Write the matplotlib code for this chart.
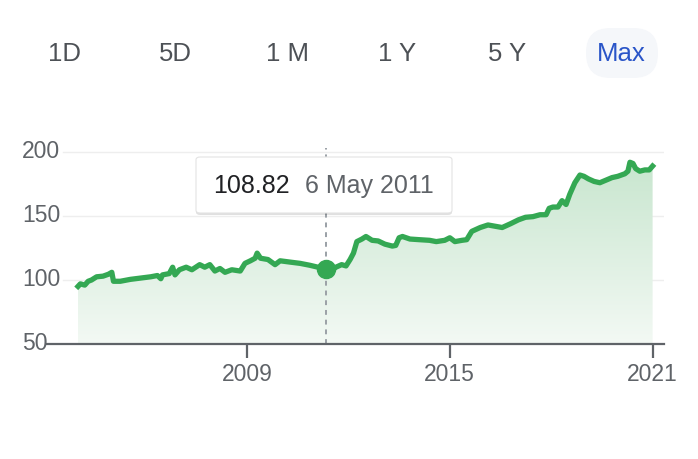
import numpy as np
import matplotlib
matplotlib.use("Agg")
import matplotlib.pyplot as plt
from matplotlib.patches import FancyBboxPatch
from matplotlib.colors import LinearSegmentedColormap
import matplotlib.transforms as mtransforms

plt.rcParams['font.family'] = ['Liberation Sans', 'DejaVu Sans']

# ---- data (decimal years, index value) ----
years = [2004.0, 2004.07, 2004.2, 2004.3, 2004.4, 2004.55, 2004.74, 2004.9, 2005.0, 2005.05,
         2005.25, 2005.55, 2005.85, 2006.15, 2006.35, 2006.45, 2006.5, 2006.7, 2006.8, 2006.87,
         2007.0, 2007.2, 2007.37, 2007.6, 2007.75, 2007.9, 2008.05, 2008.2, 2008.35, 2008.55,
         2008.8, 2008.94, 2009.1, 2009.24, 2009.3, 2009.4, 2009.62, 2009.83, 2009.98, 2010.27,
         2010.57, 2010.86, 2011.1, 2011.34, 2011.46, 2011.63, 2011.8, 2011.93, 2012.05, 2012.15,
         2012.25, 2012.4, 2012.52, 2012.7, 2012.88, 2013.08, 2013.3, 2013.4, 2013.5, 2013.6,
         2013.82, 2014.1, 2014.4, 2014.6, 2014.85, 2015.0, 2015.15, 2015.36, 2015.5, 2015.65,
         2015.9, 2016.13, 2016.34, 2016.55, 2016.8, 2017.03, 2017.24, 2017.46, 2017.67, 2017.85,
         2017.94, 2018.05, 2018.2, 2018.32, 2018.44, 2018.55, 2018.7, 2018.85, 2018.97, 2019.1,
         2019.27, 2019.44, 2019.62, 2019.8, 2019.97, 2020.18, 2020.27, 2020.33, 2020.42, 2020.5,
         2020.62, 2020.77, 2020.9, 2021.0]
values = [95, 97, 96, 99, 100, 102.5, 103, 104.5, 106, 99,
          99, 100.5, 101.5, 102.5, 103.5, 101, 104, 105, 110, 104,
          108, 110, 108, 112, 110, 112, 107, 109, 106, 108,
          107, 113, 115, 117, 121, 117, 116, 112, 115, 114,
          113, 111.5, 110, 108.82, 106.5, 110, 112, 111, 116, 121,
          130, 132, 134, 131, 130.5, 128, 126.5, 127, 133, 134,
          132, 131.5, 131, 130, 131, 133, 130, 131, 131.5, 138,
          141, 143, 142, 141, 144, 147, 149, 149.5, 151, 151,
          156, 157, 157, 162, 159, 167, 176, 182, 181, 179,
          177, 176, 178, 180, 181, 183, 185, 192, 191, 187,
          185, 186, 186, 189]

yticks = [50, 100, 150, 200]
xticks = [2009, 2015, 2021]
ranges = ["1D", "5D", "1 M", "1 Y", "5 Y", "Max"]
range_x = [64, 175, 287, 397, 507, 621]

hl_year, hl_value, hl_label = 2011.34, 108.82, "6 May 2011"

GREEN = '#34a853'
GRAY = '#5f6368'
W, H = 698, 459

fig = plt.figure(figsize=(W / 100, H / 100), dpi=100)
fig.patch.set_facecolor('white')

def fx(px):
    return px / W

def fy(py):
    return 1 - py / H

# axes: left px 47, right px 664; bottom py 344 (value 50), top py 130
ax = fig.add_axes([fx(47), fy(344), fx(664) - fx(47), fy(130) - fy(344)])
ax.set_facecolor('none')
pxyr = 33.8
ax.set_xlim(2009 - 200 / pxyr, 2009 + 417 / pxyr)
ax.set_ylim(50, 50 + (344 - 130) / 1.28)

for s in ax.spines.values():
    s.set_visible(False)
ax.spines['bottom'].set_visible(True)
ax.spines['bottom'].set_color(GRAY)
ax.spines['bottom'].set_linewidth(1.6)
ax.spines['bottom'].set_zorder(5)

# grid lines
x0f = (63 - 47) / (664 - 47)
for t in yticks[1:]:
    ax.axhline(t, xmin=x0f, xmax=1, color='#eeeeee', lw=1.0, zorder=0)

# gradient fill under the line
x = np.array(years)
y = np.array(values)
poly = ax.fill_between(x, y, 50, color='none', lw=0)
grad = np.linspace(0, 1, 256).reshape(-1, 1)
cmap = LinearSegmentedColormap.from_list('g', ['#f3f9f4', '#c6e5cd'])
im = ax.imshow(grad, aspect='auto', cmap=cmap, origin='lower',
               extent=[x.min(), x.max(), 50, 200], zorder=1)
path = poly.get_paths()[0]
im.set_clip_path(path, transform=ax.transData)

# line
ax.plot(x, y, color=GREEN, lw=3.8, zorder=3, solid_joinstyle='round')

# vertical dashed line
ax.plot([hl_year, hl_year], [50, 50 + (344 - 148) / 1.28], color='#9aa0a6', lw=1.4,
        ls=(0, (2.5, 2.5)), zorder=2, clip_on=False)
ax.plot([hl_year], [hl_value], 'o', ms=13, color=GREEN, zorder=4)

# x ticks
ax.set_xticks(xticks)
ax.set_xticklabels([str(t) for t in xticks], fontsize=16.5, color=GRAY)
ax.tick_params(axis='x', length=10, width=1.6, color=GRAY, pad=4)
ax.set_yticks([])

# y tick labels, left aligned
tr = mtransforms.blended_transform_factory(fig.transFigure, ax.transData)
for t in yticks:
    ax.text(fx(22), t, str(t), transform=tr, ha='left', va='center',
            fontsize=16.5, color=GRAY, clip_on=False)

# tooltip
bx0, by0, bx1, by1 = 196, 157, 452, 213
sh = FancyBboxPatch((fx(bx0), fy(by1 + 2)), fx(bx1) - fx(bx0), fy(by0) - fy(by1),
                    boxstyle='round,pad=0,rounding_size=0.006', transform=fig.transFigure,
                    facecolor='#000000', alpha=0.12, edgecolor='none', zorder=9)
fig.patches.append(sh)
box = FancyBboxPatch((fx(bx0), fy(by1)), fx(bx1) - fx(bx0), fy(by0) - fy(by1),
                     boxstyle='round,pad=0,rounding_size=0.006', transform=fig.transFigure,
                     facecolor='white', edgecolor='#e3e3e3', lw=0.8, zorder=10)
fig.patches.append(box)
fig.text(fx(213), fy(186), f"{hl_value:.2f}", fontsize=18, color='#202124',
         ha='left', va='center', zorder=11)
fig.text(fx(305), fy(186), hl_label, fontsize=18, color='#5f6368',
         ha='left', va='center', zorder=11)

# range buttons
pill = FancyBboxPatch((fx(586), fy(78)), fx(658) - fx(586), fy(28) - fy(78),
                      boxstyle='round,pad=0,rounding_size=0.035', transform=fig.transFigure,
                      facecolor='#f5f7fa', edgecolor='none', zorder=1,
                      mutation_aspect=W / H)
fig.patches.append(pill)
for lab, px in zip(ranges, range_x):
    col = '#2a55c8' if lab == 'Max' else '#4d5156'
    fig.text(fx(px), fy(54), lab, fontsize=18.5, color=col, ha='center', va='center', zorder=2)

fig.savefig('out.png', dpi=100, facecolor='white')
